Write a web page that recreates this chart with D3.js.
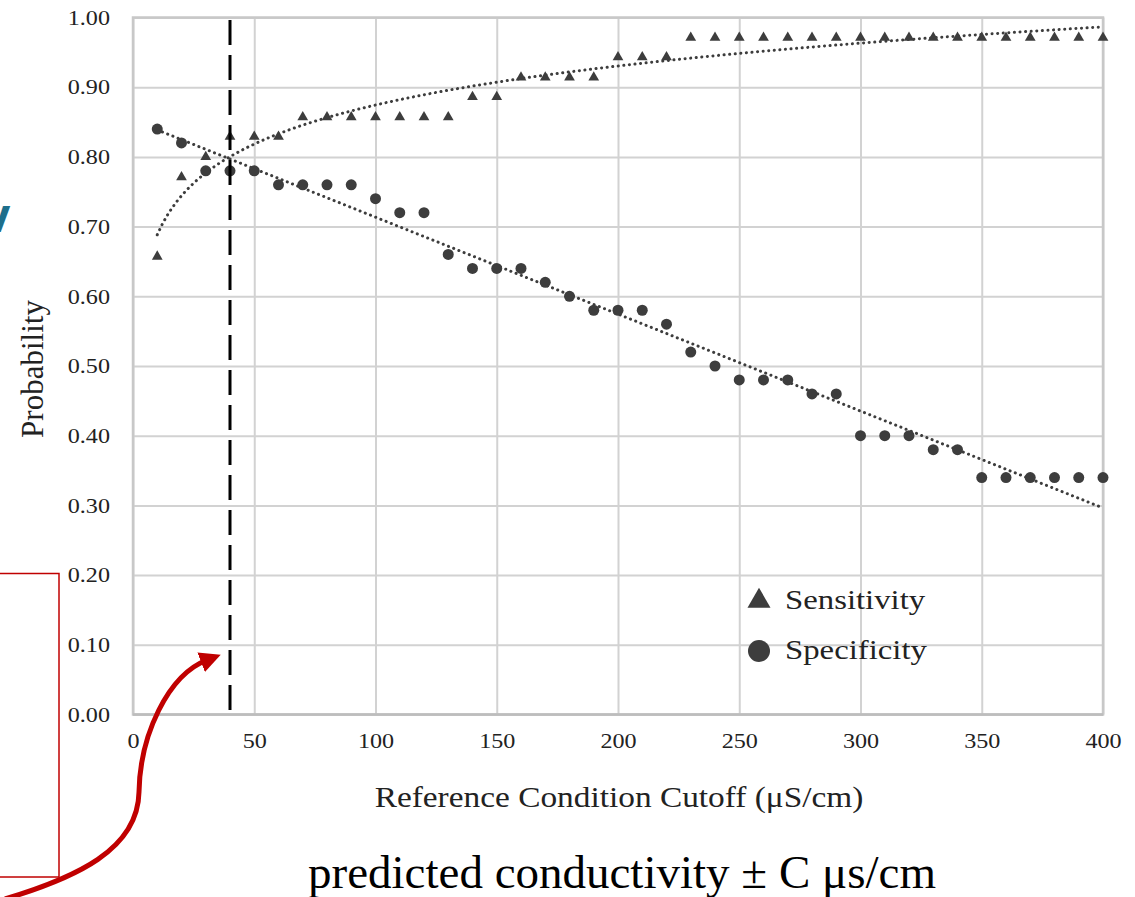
<!DOCTYPE html>
<html><head><meta charset="utf-8">
<script src="https://cdn.jsdelivr.net/npm/d3@7"></script>
<style>
body{margin:0;background:#fff;}
svg{display:block;}
</style></head>
<body>
<svg id="chart" width="1135" height="897"></svg>
<script>
// ---- data ----
const cutoffs = [10,20,30,40,50,60,70,80,90,100,110,120,130,140,150,160,170,180,190,200,
                 210,220,230,240,250,260,270,280,290,300,310,320,330,340,350,360,370,380,390,400];
const sensitivity = [0.657,0.771,0.800,0.829,0.829,0.829,0.857,0.857,0.857,0.857,0.857,0.857,0.857,0.886,0.886,0.914,0.914,0.914,0.914,0.943,
                     0.943,0.943,0.971,0.971,0.971,0.971,0.971,0.971,0.971,0.971,0.971,0.971,0.971,0.971,0.971,0.971,0.971,0.971,0.971,0.971];
const specificity = [0.84,0.82,0.78,0.78,0.78,0.76,0.76,0.76,0.76,0.74,0.72,0.72,0.66,0.64,0.64,0.64,0.62,0.60,0.58,0.58,
                     0.58,0.56,0.52,0.50,0.48,0.48,0.48,0.46,0.46,0.40,0.40,0.40,0.38,0.38,0.34,0.34,0.34,0.34,0.34,0.34];
const xTicks = [0,50,100,150,200,250,300,350,400];
const yTicks = [0,0.1,0.2,0.3,0.4,0.5,0.6,0.7,0.8,0.9,1.0];
const chosenCutoff = [40];
const seriesNames = ["Sensitivity","Specificity"];

const svg = d3.select("#chart");
const x = d3.scaleLinear().domain([0,400]).range([133,1103]);
const y = d3.scaleLinear().domain([0,1]).range([714.5,17.5]);
const serif = "'Liberation Serif','Times New Roman',serif";
const markColor = "#3d3d3d";
const gridColor = "#d2d2d2";
const stretch = 1.15;

// ---- gridlines & tick labels ----
const gx = svg.append("g").attr("transform",`translate(0,${y(0)})`)
  .call(d3.axisBottom(x).tickValues(xTicks).tickSize(-(y(0)-y(1))).tickFormat(d3.format("d")).tickPadding(19));
gx.select(".domain").remove();
gx.selectAll(".tick line").attr("stroke",gridColor).attr("stroke-width",2);
gx.selectAll(".tick text").attr("font-family",serif).attr("font-size",21).attr("fill","#222")
  .attr("transform",`scale(${stretch},1)`);

const gy = svg.append("g").attr("transform",`translate(${x(0)},0)`)
  .call(d3.axisLeft(y).tickValues(yTicks).tickSize(-(x(400)-x(0))).tickFormat(d3.format(".2f")).tickPadding(20));
gy.select(".domain").remove();
gy.selectAll(".tick line").attr("stroke",gridColor).attr("stroke-width",2);
gy.selectAll(".tick text").attr("font-family",serif).attr("font-size",21).attr("fill","#222")
  .attr("transform",`scale(${stretch},1)`);

// plot border
svg.append("rect").attr("x",x(0)).attr("y",y(1)).attr("width",x(400)-x(0)).attr("height",y(0)-y(1))
  .attr("fill","none").attr("stroke","#c8c8c8").attr("stroke-width",2.5);
svg.append("line").attr("x1",x(0)).attr("x2",x(400)).attr("y1",y(0)).attr("y2",y(0))
  .attr("stroke","#bdbdbd").attr("stroke-width",2.5);

// ---- trend lines (regressions of the data) ----
function linReg(xs, ys){
  const n = xs.length, mx = d3.mean(xs), my = d3.mean(ys);
  let sxy=0,sxx=0; for(let i=0;i<n;i++){sxy+=(xs[i]-mx)*(ys[i]-my); sxx+=(xs[i]-mx)**2;}
  const b = sxy/sxx; return {a: my-b*mx, b};
}
const logFit = linReg(cutoffs.map(Math.log), sensitivity);
const linFit = linReg(cutoffs, specificity);
const trendX = d3.range(cutoffs[0], cutoffs[cutoffs.length-1]+0.01, 2);
const line = d3.line().x(d=>x(d[0])).y(d=>y(d[1]));
svg.append("path").datum(trendX.map(v=>[v, logFit.a+logFit.b*Math.log(v)]))
  .attr("d",line).attr("fill","none").attr("stroke",markColor).attr("stroke-width",3)
  .attr("stroke-linecap","round").attr("stroke-dasharray","0.1 5.5");
svg.append("path").datum(trendX.map(v=>[v, linFit.a+linFit.b*v]))
  .attr("d",line).attr("fill","none").attr("stroke",markColor).attr("stroke-width",3)
  .attr("stroke-linecap","round").attr("stroke-dasharray","0.1 5.5");

// ---- markers ----
const tri = d3.symbol().type(d3.symbolTriangle).size(50);
svg.append("g").selectAll("path").data(cutoffs.map((c,i)=>[c,sensitivity[i]])).join("path")
  .attr("d",tri).attr("transform",d=>`translate(${x(d[0])},${y(d[1])})`).attr("fill",markColor);
svg.append("g").selectAll("circle").data(cutoffs.map((c,i)=>[c,specificity[i]])).join("circle")
  .attr("cx",d=>x(d[0])).attr("cy",d=>y(d[1])).attr("r",5.5).attr("fill",markColor);

// ---- chosen cutoff dashed line ----
svg.selectAll(".cut").data(chosenCutoff).join("line").attr("class","cut")
  .attr("x1",d=>x(d)).attr("x2",d=>x(d)).attr("y1",20).attr("y2",y(0))
  .attr("stroke","#000").attr("stroke-width",3).attr("stroke-dasharray","25 10");

// ---- legend ----
const leg = svg.append("g");
leg.append("path").attr("d",d3.symbol().type(d3.symbolTriangle).size(230))
  .attr("transform",`translate(759,601)`).attr("fill",markColor);
leg.append("circle").attr("cx",759).attr("cy",651).attr("r",11).attr("fill",markColor);
leg.selectAll("text").data(seriesNames).join("text")
  .attr("transform",(d,i)=>`translate(785,${609+i*50}) scale(1.17,1)`).text(d=>d)
  .attr("font-family",serif).attr("font-size",28).attr("fill","#222");

// ---- axis titles ----
svg.append("text").attr("transform",`translate(43,369) rotate(-90)`).attr("text-anchor","middle")
  .attr("font-family",serif).attr("font-size",31).attr("fill","#222").text("Probability");
svg.append("text").attr("transform",`translate(619,807) scale(${stretch},1)`).attr("text-anchor","middle")
  .attr("font-family",serif).attr("font-size",29).attr("fill","#222").text("Reference Condition Cutoff (μS/cm)");

// ---- slide annotations ----
svg.append("text").attr("x",622).attr("y",888).attr("text-anchor","middle")
  .attr("font-family",serif).attr("font-size",47).attr("fill","#000").text("predicted conductivity ± C μs/cm");
svg.append("text").attr("x",-16).attr("y",232).attr("font-family","'Open Sans',sans-serif")
  .attr("font-weight","bold").attr("font-size",46).attr("fill","#1d6f8c").text("v");
svg.append("rect").attr("x",-10).attr("y",573.5).attr("width",69).attr("height",303.5)
  .attr("fill","none").attr("stroke","#c00000").attr("stroke-width",1.5);
const defs = svg.append("defs");
defs.append("marker").attr("id","ah").attr("viewBox","0 0 10 10").attr("refX",3).attr("refY",5)
  .attr("markerWidth",4.2).attr("markerHeight",4.2).attr("orient","auto")
  .append("path").attr("d","M0,0 L10,5 L0,10 z").attr("fill","#c00000");
svg.append("path").attr("d","M 5 899 C 75 878, 138 850, 139 792 C 140 735, 168 675, 207 660")
  .attr("fill","none").attr("stroke","#c00000").attr("stroke-width",5).attr("marker-end","url(#ah)");
</script>
</body></html>
